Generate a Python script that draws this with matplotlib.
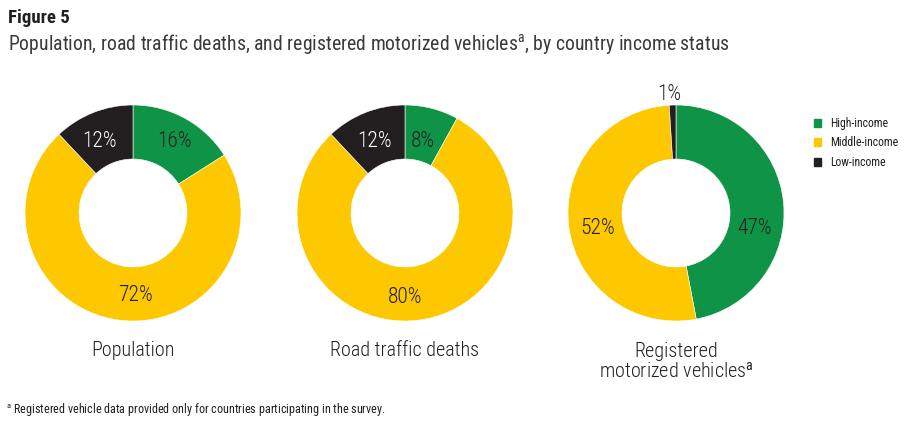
import matplotlib
matplotlib.use("Agg")
import matplotlib.pyplot as plt
from matplotlib import font_manager

# look for a narrow face, the original uses a condensed DIN-like font
narrow = None
names = sorted(set(f.name for f in font_manager.fontManager.ttflist))
for key in ['Liberation Sans Narrow', 'Roboto Condensed', 'Open Sans Condensed', 'DejaVu Sans Condensed']:
    if key in names:
        narrow = key
        break
cond = [f for f in font_manager.fontManager.ttflist if f.stretch in ('condensed', 'semi-condensed')]
stretch = 'normal'
if narrow is None and cond:
    narrow = cond[0].name
    stretch = cond[0].stretch
if narrow is None:
    narrow = 'DejaVu Sans'

plt.rcParams['font.family'] = [narrow, 'DejaVu Sans']
plt.rcParams['font.stretch'] = stretch
plt.rcParams['mathtext.fontset'] = 'custom'
plt.rcParams['mathtext.rm'] = narrow

# data
groups = ['High-income', 'Middle-income', 'Low-income']
colors = ['#0f9447', '#fdc800', '#231f20']
charts = ['Population', 'Road traffic deaths', 'Registered\nmotorized vehicles$^{\\mathrm{a}}$']
population = [16, 72, 12]
deaths = [8, 80, 12]
vehicles = [47, 52, 1]
all_values = [population, deaths, vehicles]

# where the percent labels sit (in units of the outer radius)
label_pos = [
    [(0.38, 0.66), (0.02, -0.76), (-0.31, 0.66)],
    [(0.17, 0.66), (0.0, -0.78), (-0.28, 0.66)],
    [(0.73, -0.14), (-0.73, -0.14), (-0.06, 1.10)],
]

W, H = 907, 428
fig = plt.figure(figsize=(W / 100, H / 100), dpi=100)

centers = [133, 405, 676]
cy = 213
R = 108

for i, vals in enumerate(all_values):
    ax = fig.add_axes([(centers[i] - R) / W, (H - cy - R) / H, 2 * R / W, 2 * R / H])
    wedges, texts, autotexts = ax.pie(vals, colors=colors, startangle=90, counterclock=False,
                                      wedgeprops=dict(width=0.5, edgecolor='white', linewidth=0.4),
                                      autopct='%d%%', pctdistance=0.77,
                                      textprops=dict(fontsize=15.5, color='#231f20', weight='light'))
    for t, v, c, p in zip(autotexts, vals, colors, label_pos[i]):
        t.set_position(p)
        t.set_clip_on(False)
        if c == '#231f20' and v >= 5:
            t.set_color('white')
    ax.set_xlim(-1, 1)
    ax.set_ylim(-1, 1)
    ax.set_aspect('equal')
    ax.axis('off')
    for w in wedges:
        w.set_clip_on(False)

    ly = 350 if i < 2 else 362
    fig.text(centers[i] / W, 1 - ly / H, charts[i], ha='center', va='center',
             fontsize=14.5, color='#231f20', linespacing=1.05, weight='light')

# titles
fig.text(8 / W, 1 - 18 / H, 'Figure 5', fontsize=13.5, fontweight='bold', color='#231f20',
         va='center', ha='left')
fig.text(8 / W, 1 - 44 / H,
         'Population, road traffic deaths, and registered motorized vehicles$^{\\mathrm{a}}$, by country income status',
         fontsize=14.2, color='#3a3a3a', va='center', ha='left')
fig.text(6 / W, 1 - 410 / H,
         '$^{\\mathrm{a}}$ Registered vehicle data provided only for countries participating in the survey.',
         fontsize=8.7, color='#231f20', va='center', ha='left')

# legend
leg_y = [123, 142, 162]
for g, c, y in zip(groups, colors, leg_y):
    fig.patches.append(plt.Rectangle((814 / W, 1 - (y + 4) / H), 7 / W, 8 / H,
                                     color=c, transform=fig.transFigure, figure=fig))
    fig.text(830 / W, 1 - y / H, g, fontsize=8.5,
             color='#231f20', va='center', ha='left')

fig.savefig('out.png', dpi=100)
